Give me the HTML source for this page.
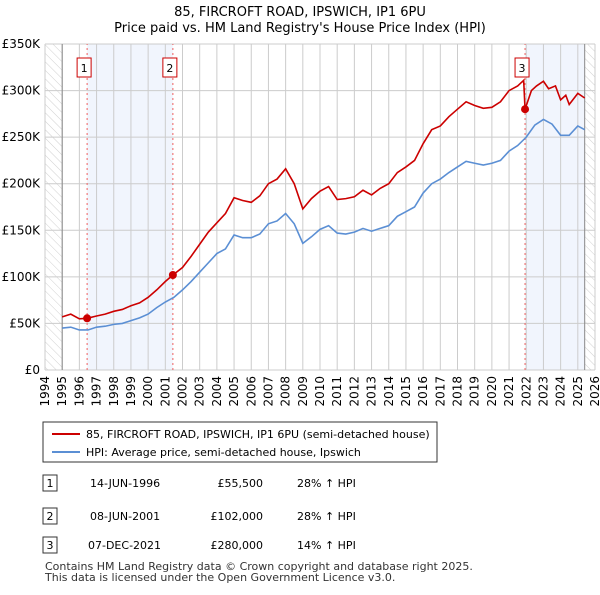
<!DOCTYPE html>
<html><head><meta charset="utf-8"><style>
body{margin:0;background:#fff;font-family:"Liberation Sans","DejaVu Sans",sans-serif;}
svg text{font-family:"DejaVu Sans","Liberation Sans",sans-serif;}
</style></head><body>
<svg width="600" height="590" xmlns="http://www.w3.org/2000/svg">
<defs><pattern id="hatch" width="6" height="6" patternUnits="userSpaceOnUse" patternTransform="rotate(-45)"><line x1="0" y1="0" x2="0" y2="6" stroke="#bbb" stroke-width="0.7"/></pattern></defs>
<text x="300" y="16" text-anchor="middle" font-size="13" fill="#000">85, FIRCROFT ROAD, IPSWICH, IP1 6PU</text>
<text x="300" y="32" text-anchor="middle" font-size="13" fill="#000">Price paid vs. HM Land Registry's House Price Index (HPI)</text>
<g id="plot"></g>
<g id="legend">
<rect x="43" y="422" width="394" height="40" fill="#fff" stroke="#333"/>
<line x1="52" y1="434" x2="80" y2="434" stroke="#cc0000" stroke-width="2"/>
<text x="86" y="438" font-size="11">85, FIRCROFT ROAD, IPSWICH, IP1 6PU (semi-detached house)</text>
<line x1="52" y1="452" x2="80" y2="452" stroke="#5b8fd4" stroke-width="2"/>
<text x="86" y="456" font-size="11">HPI: Average price, semi-detached house, Ipswich</text>
</g>
<g id="table" font-size="11">
<rect x="43" y="475" width="14" height="16" fill="#fff" stroke="#333"/><text x="50" y="487" text-anchor="middle">1</text>
<text x="90" y="487">14-JUN-1996</text><text x="263" y="487" text-anchor="end">£55,500</text><text x="297" y="487">28% ↑ HPI</text>
<rect x="43" y="508" width="14" height="16" fill="#fff" stroke="#333"/><text x="50" y="520" text-anchor="middle">2</text>
<text x="90" y="520">08-JUN-2001</text><text x="263" y="520" text-anchor="end">£102,000</text><text x="297" y="520">28% ↑ HPI</text>
<rect x="43" y="537" width="14" height="16" fill="#fff" stroke="#333"/><text x="50" y="549" text-anchor="middle">3</text>
<text x="88" y="549">07-DEC-2021</text><text x="263" y="549" text-anchor="end">£280,000</text><text x="297" y="549">14% ↑ HPI</text>
</g>
<text x="45" y="570" font-size="11" fill="#333">Contains HM Land Registry data © Crown copyright and database right 2025.</text>
<text x="45" y="581" font-size="11" fill="#333">This data is licensed under the Open Government Licence v3.0.</text>
</svg>
<script>
const yTicks=[0,50,100,150,200,250,300,350];
const yLabels=["£0","£50K","£100K","£150K","£200K","£250K","£300K","£350K"];
const years=[1994,1995,1996,1997,1998,1999,2000,2001,2002,2003,2004,2005,2006,2007,2008,2009,2010,2011,2012,2013,2014,2015,2016,2017,2018,2019,2020,2021,2022,2023,2024,2025,2026];
const hpiT=[1995,1995.5,1996,1996.5,1997,1997.5,1998,1998.5,1999,1999.5,2000,2000.5,2001,2001.5,2002,2002.5,2003,2003.5,2004,2004.5,2005,2005.5,2006,2006.5,2007,2007.5,2008,2008.5,2009,2009.5,2010,2010.5,2011,2011.5,2012,2012.5,2013,2013.5,2014,2014.5,2015,2015.5,2016,2016.5,2017,2017.5,2018,2018.5,2019,2019.5,2020,2020.5,2021,2021.5,2022,2022.5,2023,2023.5,2024,2024.5,2025,2025.4];
const hpiV=[45,46,43,43,46,47,49,50,53,56,60,67,73,78,86,95,105,115,125,130,145,142,142,146,157,160,168,157,136,143,151,155,147,146,148,152,149,152,155,165,170,175,190,200,205,212,218,224,222,220,222,225,235,241,250,263,269,264,252,252,262,258];
const priceT=[1995,1995.5,1996,1996.45,1997,1997.5,1998,1998.5,1999,1999.5,2000,2000.5,2001,2001.44,2002,2002.5,2003,2003.5,2004,2004.5,2005,2005.5,2006,2006.5,2007,2007.5,2008,2008.5,2009,2009.5,2010,2010.5,2011,2011.5,2012,2012.5,2013,2013.5,2014,2014.5,2015,2015.5,2016,2016.5,2017,2017.5,2018,2018.5,2019,2019.5,2020,2020.5,2021,2021.5,2021.85,2021.93,2022.3,2022.6,2023,2023.3,2023.7,2024,2024.3,2024.5,2025,2025.4];
const priceV=[57,60,55,55.5,58,60,63,65,69,72,78,86,95,102,110,122,135,148,158,168,185,182,180,187,200,205,216,200,173,184,192,197,183,184,186,193,188,195,200,212,218,225,243,258,262,272,280,288,284,281,282,288,300,305,311,280,300,305,310,302,305,290,295,285,297,292];
const saleT=[1996.45,2001.44,2021.93];
const saleV=[55.5,102,280];
const saleLabels=["1","2","3"];
const ns="http://www.w3.org/2000/svg";
const X=t=>45+(t-1994)*(550/32);
const Y=v=>370-v*(326/350);
const g=document.getElementById('plot');
function mk(tag,attrs,name){const e=document.createElementNS(ns,tag);for(const k in attrs)e.setAttribute(k,attrs[k]);


g.appendChild(e);return e;}
mk('rect',{x:X(1994),y:Y(350),width:X(1995)-X(1994),height:Y(0)-Y(350),fill:'url(#hatch)'},'hatch-left');
mk('rect',{x:X(2025.4),y:Y(350),width:X(2026)-X(2025.4),height:Y(0)-Y(350),fill:'url(#hatch)'},'hatch-right');
mk('rect',{x:X(saleT[0]),y:Y(350),width:X(saleT[1])-X(saleT[0]),height:Y(0)-Y(350),fill:'#eef3fc',opacity:0.8},'shade-1');
mk('rect',{x:X(saleT[2]),y:Y(350),width:X(2025.4)-X(saleT[2]),height:Y(0)-Y(350),fill:'#eef3fc',opacity:0.8},'shade-2');
years.forEach(y=>{mk('line',{x1:X(y),x2:X(y),y1:Y(0),y2:Y(350),stroke:'#ccc','stroke-width':1},'x-grid-'+y);
const t=mk('text',{x:0,y:0,'font-size':12,'text-anchor':'end',transform:`translate(${X(y)+4},${Y(0)+6}) rotate(-90)`},'x-tick-'+y);t.textContent=y;});
yTicks.forEach((v,i)=>{mk('line',{x1:X(1994),x2:X(2026),y1:Y(v),y2:Y(v),stroke:'#ccc','stroke-width':1},'y-grid-'+v);
const t=mk('text',{x:40,y:Y(v)+4,'font-size':12,'text-anchor':'end'},'y-tick-'+v);t.textContent=yLabels[i];});
mk('line',{x1:X(1995),x2:X(1995),y1:Y(0),y2:Y(350),stroke:'#888'},'left-boundary');
mk('line',{x1:X(2025.4),x2:X(2025.4),y1:Y(0),y2:Y(350),stroke:'#888'},'right-boundary');
saleT.forEach((t,i)=>mk('line',{x1:X(t),x2:X(t),y1:Y(0),y2:Y(350),stroke:'#f06060','stroke-dasharray':'2,3'},'sale-line-'+(i+1)));
mk('polyline',{points:hpiT.map((t,i)=>X(t)+','+Y(hpiV[i])).join(' '),fill:'none',stroke:'#5b8fd4','stroke-width':1.6},'hpi-line');
mk('polyline',{points:priceT.map((t,i)=>X(t)+','+Y(priceV[i])).join(' '),fill:'none',stroke:'#cc0000','stroke-width':1.6},'price-line');
saleT.forEach((t,i)=>{mk('circle',{cx:X(t),cy:Y(saleV[i]),r:4,fill:'#cc0000'},'sale-point-'+(i+1));
mk('rect',{x:X(t)-10,y:58,width:14,height:19,fill:'#fff',stroke:'#cc0000'},'sale-marker-'+(i+1));
const tx=mk('text',{x:X(t)-3,y:72,'font-size':11,'text-anchor':'middle'},'sale-label-'+(i+1));tx.textContent=saleLabels[i];});
</script>
</body></html>
